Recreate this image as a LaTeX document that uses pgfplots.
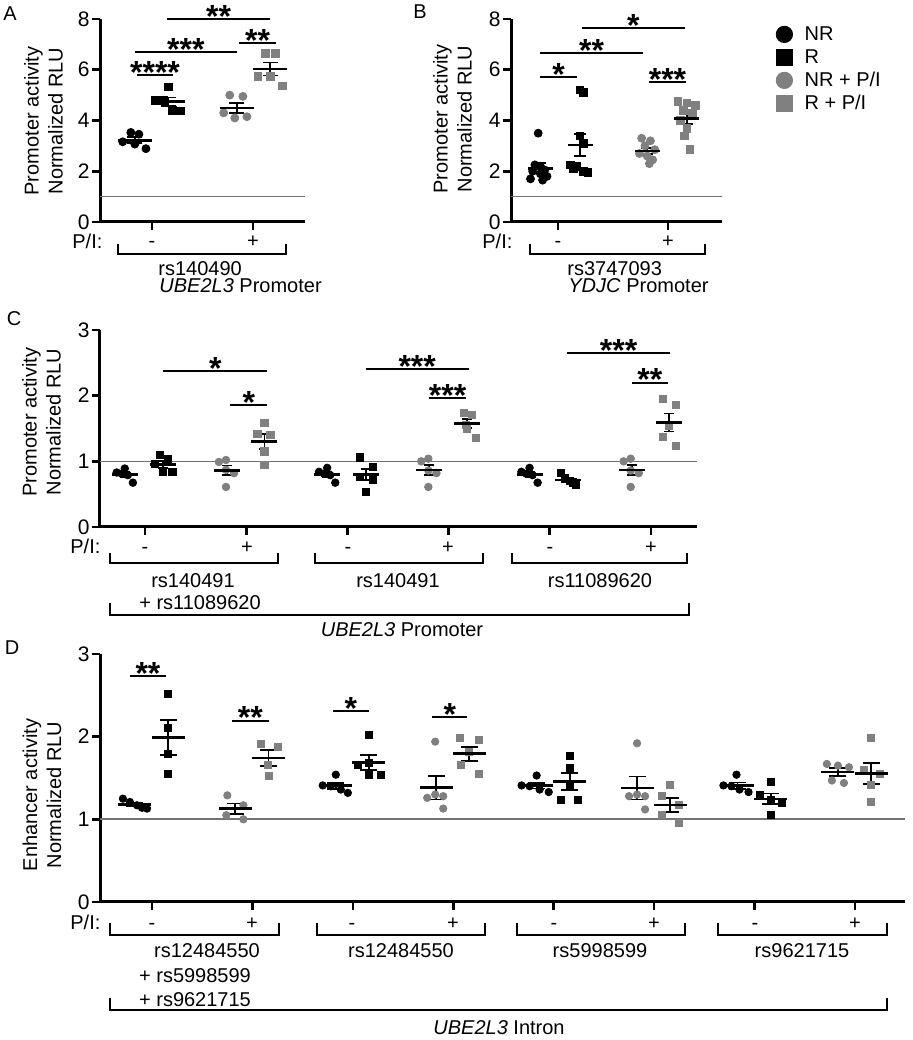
\documentclass[border=0pt]{standalone}
\usepackage{pgfplots}
\pgfplotsset{compat=1.18}
\usepackage{fontspec}
\setmainfont{Liberation Sans}
\definecolor{pg}{gray}{0.5}
\definecolor{rl}{gray}{0.45}
\newcommand{\starfont}{\fontsize{16}{16}\selectfont\bfseries}
\newcommand{\sig}[4]{\draw[line width=1pt] (axis cs:#1,#3) -- (axis cs:#2,#3) node[midway, anchor=base, inner sep=0pt, yshift=-4.2pt, font=\starfont] {#4};}
\pgfplotsset{
 panel/.style={
   scale only axis, anchor=south west,
   axis x line*=bottom, axis y line*=left,
   axis line style={line width=1.5pt},
   every outer x axis line/.append style={line width=1.5pt},
   every outer y axis line/.append style={line width=1.5pt},
   every inner x axis line/.append style={line width=1.5pt},
   every inner y axis line/.append style={line width=1.5pt},
   x axis line style={line width=1.5pt},
   y axis line style={line width=1.5pt},
   tick align=outside, major tick length=4pt,
   tick style={line width=1.3pt, black},
   xticklabels={}, ymin=0, clip=false,
   y tick label style={font=\fontsize{10.5}{12}\selectfont, inner sep=0.3pt, xshift=-0.7pt},
   /pgf/number format/assume math mode=true,
 },
 nr/.style={only marks, mark=*, black, mark size=#1},
 r/.style={only marks, mark=square*, black, mark size=#1},
 nrp/.style={only marks, mark=*, pg, mark size=#1},
 rp/.style={only marks, mark=square*, pg, mark size=#1},
 mean/.style 2 args={only marks, black, line width=1.3pt, mark=-, mark size=#1, forget plot,
   error bars/y dir=both, error bars/y explicit,
   error bars/error bar style={line width=0.9pt, black},
   error bars/error mark options={rotate=90, line width=0.9pt, mark size=#2, black}},
}
\begin{document}
\begin{tikzpicture}[font=\fontsize{10}{12}\selectfont]
\path[use as bounding box] (0,0) rectangle (456pt,520pt);

% ---------------- Panel A ----------------
\begin{axis}[panel, at={(50pt,409pt)}, width=102.5pt, height=101.5pt,
  xmin=0.485, xmax=2.515, ymax=8, xtick={1,2}, ytick={0,2,4,6,8}]
\addplot[rl, line width=0.8pt, forget plot] coordinates {(0.485,1) (2.515,1)};
\addplot[nr=2pt] coordinates {(0.71,3.16) (0.79,3.53) (0.87,3.46) (0.83,3.07) (0.94,2.89)};
\addplot[r=1.9pt] coordinates {(1.16,5.33) (1.03,4.80) (1.11,4.80) (1.20,4.41) (1.28,4.38)};
\addplot[nrp=2pt] coordinates {(1.77,5.0) (1.90,4.95) (1.71,4.3) (1.82,4.1) (1.94,4.15)};
\addplot[rp=1.9pt] coordinates {(2.12,6.64) (2.22,6.64) (2.05,5.75) (2.17,5.75) (2.29,5.36)};
\addplot[mean={8.5pt}{3.75pt}] coordinates {(0.83,3.22) +- (0,0.12) (1.16,4.74) +- (0,0.17) (1.84,4.5) +- (0,0.2) (2.17,6.03) +- (0,0.26)};
\sig{0.85}{1.21}{5.79}{****}
\sig{0.83}{1.84}{6.71}{***}
\sig{1.15}{2.17}{8.0}{**}
\sig{1.86}{2.23}{7.07}{**}
\end{axis}

% ---------------- Panel B ----------------
\begin{axis}[panel, at={(255.5pt,409pt)}, width=105.5pt, height=101.5pt,
  xmin=0.573, xmax=2.49, ymax=8, xtick={1,2}, ytick={0,2,4,6,8},
  legend style={draw=none, fill=none, at={(axis description cs:1.255,0.978)}, anchor=north west,
    inner sep=0pt, font=\fontsize{10}{12}\selectfont, row sep=1pt,
    nodes={inner sep=0.5pt, text height=8pt, text depth=1.5pt},
    /tikz/every odd column/.append style={column sep=5.5pt}},
  legend cell align=left,
  legend image code/.code={\draw[#1, mark size=4.1pt] plot coordinates {(0cm,0cm)};}]
\addplot[rl, line width=0.8pt, forget plot] coordinates {(0.573,1) (2.49,1)};
\addplot[nr=2pt] coordinates {(0.82,3.5) (0.79,2.25) (0.84,2.2) (0.88,2.05) (0.77,2.0) (0.84,1.9) (0.90,1.8) (0.75,1.7) (0.86,1.65)};
\addlegendentry{NR}
\addplot[r=1.9pt] coordinates {(1.20,5.2) (1.23,5.1) (1.20,3.4) (1.23,3.1) (1.11,2.25) (1.17,2.2) (1.14,2.1) (1.23,2.0) (1.27,1.95)};
\addlegendentry{R}
\addplot[nrp=2pt] coordinates {(1.76,3.3) (1.84,3.2) (1.79,3.0) (1.88,2.85) (1.74,2.7) (1.81,2.6) (1.86,2.45) (1.83,2.3)};
\addlegendentry{NR + P/I}
\addplot[rp=1.9pt] coordinates {(2.09,4.75) (2.17,4.7) (2.25,4.6) (2.14,4.4) (2.22,4.3) (2.11,4.0) (2.17,3.7) (2.15,3.4) (2.20,2.85)};
\addlegendentry{R + P/I}
\addplot[mean={6.25pt}{3pt}] coordinates {(0.84,2.12) +- (0,0.19) (1.20,3.03) +- (0,0.43) (1.81,2.8) +- (0,0.125) (2.17,4.08) +- (0,0.22)};
\sig{0.84}{1.17}{5.7}{*}
\sig{0.84}{1.77}{6.67}{**}
\sig{1.22}{2.15}{7.63}{*}
\sig{1.83}{2.16}{5.53}{***}
\end{axis}

% ---------------- Panel C ----------------
\begin{axis}[panel, at={(50pt,256.5pt)}, width=298.5pt, height=98.5pt,
  xmin=0.555, xmax=6.455, ymax=3, xtick={1,2,3,4,5,6}, ytick={0,1,2,3}]
\addplot[rl, line width=0.8pt, forget plot] coordinates {(0.555,1) (6.455,1)};
\addplot[nr=1.9pt] coordinates {(0.72,0.83) (0.80,0.89) (0.77,0.81) (0.83,0.79) (0.88,0.675)
  (2.72,0.84) (2.80,0.90) (2.77,0.81) (2.83,0.79) (2.88,0.675)
  (4.72,0.84) (4.80,0.90) (4.77,0.81) (4.83,0.79) (4.88,0.675)};
\addplot[r=1.8pt] coordinates {(1.15,1.10) (1.23,1.03) (1.10,0.96) (1.18,0.84) (1.27,0.84)
  (3.12,1.06) (3.25,0.92) (3.12,0.76) (3.25,0.72) (3.18,0.54)
  (5.11,0.82) (5.15,0.74) (5.20,0.70) (5.26,0.64) (5.23,0.68)};
\addplot[nrp=1.9pt] coordinates {(1.73,0.99) (1.80,1.02) (1.80,0.87) (1.88,0.82) (1.80,0.61)
  (3.73,1.0) (3.80,1.04) (3.80,0.86) (3.88,0.82) (3.80,0.61)
  (5.73,1.0) (5.80,1.04) (5.80,0.86) (5.88,0.82) (5.80,0.61)};
\addplot[rp=1.8pt] coordinates {(2.18,1.59) (2.11,1.42) (2.24,1.40) (2.18,1.15) (2.18,0.945)
  (4.15,1.74) (4.23,1.71) (4.17,1.55) (4.18,1.50) (4.27,1.36)
  (6.12,1.95) (6.25,1.86) (6.18,1.54) (6.12,1.37) (6.25,1.24)};
\addplot[mean={6.5pt}{2.5pt}] coordinates {(0.8,0.80) +- (0,0.035) (2.8,0.80) +- (0,0.035) (4.8,0.80) +- (0,0.035)
  (1.18,0.954) +- (0,0.052) (3.18,0.80) +- (0,0.089) (5.18,0.716) +- (0,0.031)
  (1.81,0.862) +- (0,0.073) (3.81,0.866) +- (0,0.075) (5.81,0.866) +- (0,0.075)
  (2.18,1.30) +- (0,0.113) (4.18,1.572) +- (0,0.07) (6.18,1.592) +- (0,0.137)};
\sig{1.18}{2.21}{2.38}{*}
\sig{1.84}{2.21}{1.86}{*}
\sig{3.18}{4.20}{2.40}{***}
\sig{3.81}{4.17}{1.97}{***}
\sig{5.17}{6.19}{2.65}{***}
\sig{5.81}{6.17}{2.2}{**}
\end{axis}

% ---------------- Panel D ----------------
\begin{axis}[panel, at={(50pt,69pt)}, width=402.5pt, height=124pt,
  xmin=0.482, xmax=8.498, ymax=3, xtick={1,2,3,4,5,6,7,8}, ytick={0,1,2,3}]
\addplot[rl, line width=1pt, forget plot] coordinates {(0.482,1) (8.498,1)};
\addplot[nr=1.85pt] coordinates {(0.71,1.25) (0.78,1.21) (0.85,1.17) (0.90,1.14) (0.95,1.13)
  (2.70,1.41) (2.78,1.40) (2.83,1.54) (2.88,1.36) (2.95,1.32)
  (4.68,1.41) (4.76,1.40) (4.83,1.53) (4.86,1.36) (4.95,1.33)
  (6.69,1.41) (6.77,1.40) (6.82,1.54) (6.85,1.36) (6.94,1.33)};
\addplot[r=1.75pt] coordinates {(1.16,2.52) (1.16,2.10) (1.16,1.79) (1.16,1.55)
  (3.16,2.02) (3.05,1.66) (3.16,1.68) (3.16,1.54) (3.28,1.54)
  (5.16,1.77) (5.16,1.62) (5.16,1.42) (5.07,1.24) (5.24,1.24)
  (7.16,1.45) (7.05,1.30) (7.16,1.24) (7.27,1.20) (7.16,1.05)};
\addplot[nrp=1.85pt] coordinates {(1.75,1.29) (1.91,1.17) (1.74,1.05) (1.91,1.0)
  (3.82,1.94) (3.74,1.26) (3.82,1.30) (3.90,1.28) (3.90,1.13)
  (5.83,1.92) (5.75,1.28) (5.91,1.28) (5.83,1.30) (5.91,1.12)
  (7.72,1.67) (7.83,1.65) (7.94,1.63) (7.77,1.47) (7.89,1.44)};
\addplot[rp=1.75pt] coordinates {(2.08,1.91) (2.25,1.88) (2.15,1.66) (2.16,1.52)
  (4.07,1.98) (4.25,1.96) (4.16,1.82) (4.08,1.66) (4.25,1.55)
  (6.16,1.42) (6.08,1.28) (6.25,1.17) (6.08,1.05) (6.25,0.955)
  (8.16,1.98) (8.09,1.60) (8.25,1.55) (8.16,1.42) (8.16,1.21)};
\addplot[mean={8.25pt}{4.25pt}] coordinates {(0.83,1.18) +- (0,0.022) (2.83,1.406) +- (0,0.037) (4.83,1.406) +- (0,0.034) (6.83,1.408) +- (0,0.037)
  (1.16,1.99) +- (0,0.21) (3.16,1.688) +- (0,0.088) (5.16,1.458) +- (0,0.105) (7.16,1.248) +- (0,0.065)
  (1.83,1.1275) +- (0,0.065) (3.83,1.382) +- (0,0.143) (5.83,1.38) +- (0,0.139) (7.83,1.572) +- (0,0.048)
  (2.16,1.7425) +- (0,0.093) (4.16,1.794) +- (0,0.084) (6.16,1.175) +- (0,0.082) (8.16,1.552) +- (0,0.126)};
\sig{0.78}{1.14}{2.73}{**}
\sig{1.80}{2.16}{2.195}{**}
\sig{2.80}{3.16}{2.31}{*}
\sig{3.79}{4.14}{2.24}{*}
\end{axis}

% ---------------- annotations in pixel coordinates ----------------
\begin{scope}[x=0.5pt, y=-0.5pt, yshift=520pt, every node/.append style={inner sep=0pt}]
\tikzset{br/.style={line width=0.7pt}}
% panel letters
\node at (10,14) {A};
\node at (420,12) {B};
\node at (14,319) {C};
\node at (12,648) {D};
% y labels
\node[rotate=90, align=center] at (43.5,121) {Promoter activity\\Normalized RLU};
\node[rotate=90, align=center] at (452.5,119) {Promoter activity\\Normalized RLU};
\node[rotate=90, align=center] at (41.5,422) {Promoter activity\\Normalized RLU};
\node[rotate=90, align=center] at (42,795) {Enhancer activity\\Normalized RLU};
% Panel A below
\node[anchor=base west] at (72,249) {P/I:};
\node[anchor=base] at (152,248) {-};
\node[anchor=base] at (253,248) {+};
\draw[br] (118,244) -- (118,254) -- (286,254) -- (286,244);
\node[anchor=base west] at (158,276) {rs140490};
\node[anchor=base west] at (159,293) {\textit{UBE2L3} Promoter};
% Panel B below
\node[anchor=base west] at (482,249) {P/I:};
\node[anchor=base] at (558,248) {-};
\node[anchor=base] at (668,248) {+};
\draw[br] (530,244) -- (530,254) -- (705,254) -- (705,244);
\node[anchor=base west] at (567,276) {rs3747093};
\node[anchor=base west] at (568,293) {\textit{YDJC} Promoter};
% Panel C below
\node[anchor=base west] at (70,554) {P/I:};
\foreach \xx in {145,348,550} {\node[anchor=base] at (\xx,554) {-};}
\foreach \xx in {247,448,651} {\node[anchor=base] at (\xx,554) {+};}
\draw[br] (110,553) -- (110,563) -- (278,563) -- (278,553);
\draw[br] (315,553) -- (315,563) -- (483,563) -- (483,553);
\draw[br] (512,553) -- (512,563) -- (687,563) -- (687,553);
\node[anchor=base] at (193,588) {rs140491};
\node[anchor=base] at (200,610) {+ rs11089620};
\node[anchor=base] at (398,588) {rs140491};
\node[anchor=base] at (600,588) {rs11089620};
\draw[br] (110,603) -- (110,615) -- (689,615) -- (689,603);
\node[anchor=base] at (402,637) {\textit{UBE2L3} Promoter};
% Panel D below
\node[anchor=base west] at (70,930) {P/I:};
\foreach \xx in {152,352,554,755} {\node[anchor=base] at (\xx,930) {-};}
\foreach \xx in {252,453,654,855} {\node[anchor=base] at (\xx,930) {+};}
\draw[br] (110,923) -- (110,935) -- (279,935) -- (279,923);
\draw[br] (317,923) -- (317,935) -- (485,935) -- (485,923);
\draw[br] (517,923) -- (517,935) -- (685,935) -- (685,923);
\draw[br] (718,923) -- (718,935) -- (887,935) -- (887,923);
\node[anchor=base] at (207,957) {rs12484550};
\node[anchor=base] at (195,983) {+ rs5998599};
\node[anchor=base] at (195,1007) {+ rs9621715};
\node[anchor=base] at (401,957) {rs12484550};
\node[anchor=base] at (600,957) {rs5998599};
\node[anchor=base] at (802,957) {rs9621715};
\draw[br] (110,998) -- (110,1010) -- (887,1010) -- (887,998);
\node[anchor=base] at (499,1035) {\textit{UBE2L3} Intron};
\end{scope}
\end{tikzpicture}
\end{document}
